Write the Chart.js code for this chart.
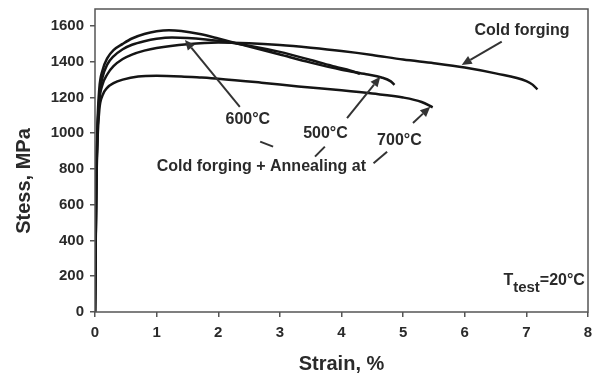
<!DOCTYPE html>
<html>
<head>
<meta charset="utf-8">
<script src="https://cdn.jsdelivr.net/npm/chart.js@4.4.1/dist/chart.umd.min.js"></script>
<style>
  html, body { margin: 0; background: #fff; }
  #wrap { width: 596px; height: 378px; }
</style>
</head>
<body>
<div id="wrap"><canvas id="c"></canvas></div>
<script>
/* Stress-strain curves, cold forged vs. cold forged + annealed. */
const X_TICKS = [0, 1, 2, 3, 4, 5, 6, 7, 8];
const Y_TICKS = [0, 200, 400, 600, 800, 1000, 1200, 1400, 1600];

const coldStrain = [0, 0.02, 0.04, 0.07, 0.12, 0.2, 0.3, 0.45, 0.6, 0.8, 1.0, 1.5, 2.0, 2.5, 3.0, 3.5, 4.0, 4.5, 5.0, 5.5, 6.0, 6.5, 7.0, 7.1, 7.18];
const coldStress = [0, 700, 1000, 1180, 1270, 1330, 1375, 1415, 1440, 1462, 1477, 1498, 1507, 1503, 1493, 1478, 1460, 1438, 1412, 1392, 1368, 1335, 1292, 1272, 1245];

const a500Strain = [0, 0.02, 0.04, 0.07, 0.12, 0.2, 0.3, 0.45, 0.6, 0.8, 1.0, 1.2, 1.4, 1.7, 2.0, 2.5, 3.0, 3.5, 4.0, 4.4, 4.65, 4.8, 4.86];
const a500Stress = [0, 700, 1050, 1250, 1350, 1420, 1465, 1500, 1530, 1555, 1570, 1576, 1572, 1555, 1530, 1485, 1440, 1395, 1355, 1330, 1312, 1290, 1270];

const a600Strain = [0, 0.02, 0.04, 0.07, 0.12, 0.2, 0.3, 0.45, 0.6, 0.8, 1.0, 1.25, 1.5, 1.8, 2.0, 2.5, 3.0, 3.5, 3.9, 4.15, 4.3];
const a600Stress = [0, 680, 1000, 1200, 1310, 1385, 1430, 1470, 1495, 1515, 1528, 1535, 1533, 1525, 1517, 1490, 1455, 1410, 1372, 1350, 1332];

const a700Strain = [0, 0.02, 0.04, 0.07, 0.12, 0.2, 0.3, 0.45, 0.7, 1.0, 1.4, 1.7, 2.0, 2.7, 3.3, 4.0, 4.5, 5.0, 5.3, 5.48];
const a700Stress = [0, 650, 950, 1130, 1210, 1255, 1280, 1300, 1318, 1322, 1318, 1312, 1305, 1283, 1262, 1240, 1222, 1200, 1175, 1145];

// annotation arrows (strain, MPa): tail -> head
const arrowFrom = [[6.6, 1512], [2.35, 1147], [4.09, 1085], [5.16, 1057]];
const arrowTo   = [[5.95, 1382], [1.46, 1522], [4.63, 1316], [5.44, 1148]];
// short connector dashes from the main label to each temperature
const dashFrom = [[2.68, 953], [3.57, 869], [4.52, 832]];
const dashTo   = [[2.89, 925], [3.73, 925], [4.74, 897]];

const labelText = ['Cold forging', '600°C', '500°C', '700°C', 'Cold forging + Annealing at'];
const labelX    = [6.93, 2.48, 3.74, 4.94, 2.70];
const labelY    = [1572, 1074, 996, 957, 814];

const INK = '#151515';
const TEXT = '#2a2a2a';
const FRAME = '#555555';
const FONT = "'Liberation Sans', Arial, Helvetica, sans-serif";

function pts(xs, ys) { return xs.map((v, i) => ({ x: v, y: ys[i] })); }

function curve(xs, ys) {
  return {
    data: pts(xs, ys),
    borderColor: INK,
    borderWidth: 2.5,
    pointRadius: 0,
    fill: false,
    tension: 0.4,
    cubicInterpolationMode: 'monotone'
  };
}

const annotate = {
  id: 'annotate',
  afterDatasetsDraw(chart) {
    const { ctx, chartArea: a, scales: { x, y } } = chart;
    const px = p => [x.getPixelForValue(p[0]), y.getPixelForValue(p[1])];
    ctx.save();

    // frame round the plot
    ctx.strokeStyle = FRAME;
    ctx.lineWidth = 1.5;
    ctx.strokeRect(a.left, a.top, a.right - a.left, a.bottom - a.top);

    // arrows
    ctx.strokeStyle = '#333';
    ctx.fillStyle = '#333';
    ctx.lineWidth = 2;
    arrowFrom.forEach((f, i) => {
      const [x0, y0] = px(f), [x1, y1] = px(arrowTo[i]);
      const ang = Math.atan2(y1 - y0, x1 - x0);
      const len = 10, w = 4.5;
      const bx = x1 - Math.cos(ang) * len, by = y1 - Math.sin(ang) * len;
      ctx.beginPath(); ctx.moveTo(x0, y0); ctx.lineTo(bx, by); ctx.stroke();
      ctx.beginPath();
      ctx.moveTo(x1, y1);
      ctx.lineTo(bx + Math.sin(ang) * w, by - Math.cos(ang) * w);
      ctx.lineTo(bx - Math.sin(ang) * w, by + Math.cos(ang) * w);
      ctx.closePath(); ctx.fill();
    });
    dashFrom.forEach((f, i) => {
      const [x0, y0] = px(f), [x1, y1] = px(dashTo[i]);
      ctx.beginPath(); ctx.moveTo(x0, y0); ctx.lineTo(x1, y1); ctx.stroke();
    });

    // labels
    ctx.fillStyle = TEXT;
    ctx.font = `bold 16px ${FONT}`;
    ctx.textAlign = 'center';
    ctx.textBaseline = 'middle';
    labelText.forEach((t, i) => {
      ctx.fillText(t, x.getPixelForValue(labelX[i]), y.getPixelForValue(labelY[i]));
    });

    // T_test = 20 °C
    const rx = x.getPixelForValue(7.95), my = y.getPixelForValue(173);
    ctx.textAlign = 'left';
    const t1 = 'T', t2 = 'test', t3 = '=20°C';
    ctx.font = `bold 16px ${FONT}`;
    const w1 = ctx.measureText(t1).width, w3 = ctx.measureText(t3).width;
    ctx.font = `bold 15px ${FONT}`;
    const w2 = ctx.measureText(t2).width;
    let sx = rx - (w1 + w2 + w3);
    ctx.font = `bold 16px ${FONT}`;
    ctx.fillText(t1, sx, my);
    ctx.font = `bold 15px ${FONT}`;
    ctx.fillText(t2, sx + w1, my + 7);
    ctx.font = `bold 16px ${FONT}`;
    ctx.fillText(t3, sx + w1 + w2, my);

    // y axis title
    ctx.translate(24, 181);
    ctx.rotate(-Math.PI / 2);
    ctx.textAlign = 'center';
    ctx.font = `bold 20px ${FONT}`;
    ctx.fillText('Stess, MPa', 0, 0);
    ctx.restore();
  }
};

new Chart(document.getElementById('c'), {
  type: 'line',
  data: {
    datasets: [
      curve(coldStrain, coldStress),
      curve(a500Strain, a500Stress),
      curve(a600Strain, a600Stress),
      curve(a700Strain, a700Stress)
    ]
  },
  options: {
    responsive: true,
    maintainAspectRatio: false,
    animation: false,
    events: [],
    layout: { padding: { left: 0, top: 9, right: 8, bottom: 0 } },
    plugins: { legend: { display: false }, tooltip: { enabled: false } },
    scales: {
      x: {
        type: 'linear',
        min: 0, max: 8,
        afterBuildTicks: ax => { ax.ticks = X_TICKS.map(v => ({ value: v })); },
        afterFit: ax => { ax.height = 66; ax.paddingLeft = 0; ax.paddingRight = 0; },
        grid: { drawOnChartArea: false, drawTicks: true, tickLength: 5, color: FRAME, lineWidth: 1.5 },
        border: { display: false },
        ticks: { color: TEXT, font: { family: FONT, size: 15, weight: 'bold' }, padding: 7, maxRotation: 0, callback: v => String(v) },
        title: { display: true, text: 'Strain, %', color: TEXT, font: { family: FONT, size: 20, weight: 'bold' }, padding: { top: 0, bottom: 2 } }
      },
      y: {
        type: 'linear',
        min: 0, max: 1695,
        afterBuildTicks: ax => { ax.ticks = Y_TICKS.map(v => ({ value: v })); },
        afterFit: ax => { ax.width = 95; ax.paddingTop = 0; ax.paddingBottom = 0; },
        grid: { drawOnChartArea: false, drawTicks: true, tickLength: 5, color: FRAME, lineWidth: 1.5 },
        border: { display: false },
        ticks: { color: TEXT, font: { family: FONT, size: 15, weight: 'bold' }, padding: 6, callback: v => String(v) }
      }
    }
  },
  plugins: [annotate]
});
</script>
</body>
</html>
